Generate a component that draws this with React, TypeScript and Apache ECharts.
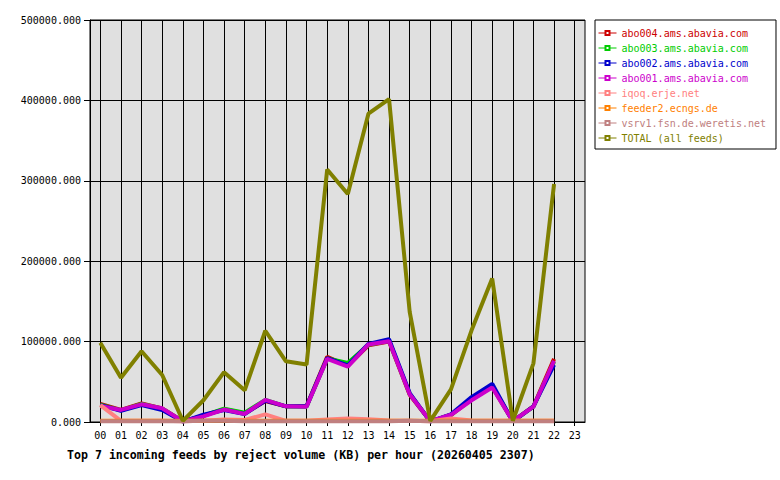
import { useEffect, useRef } from 'react';
import * as echarts from 'echarts';

const hours = ['00', '01', '02', '03', '04', '05', '06', '07', '08', '09', '10', '11',
  '12', '13', '14', '15', '16', '17', '18', '19', '20', '21', '22', '23'];

const abo004 = [22500, 15000, 23000, 17000, 1000, 7500, 16000, 10500, 26000, 19500, 20000, 81000,
  70000, 95500, 100000, 34000, 1000, 8500, 28000, 44000, 1000, 19500, 78500];
const abo003 = [21500, 14500, 22500, 16500, 800, 8000, 16500, 11500, 27500, 19500, 19000, 79000,
  73500, 96000, 101000, 35000, 800, 9000, 29000, 45000, 800, 19000, 75000];
const abo002 = [21000, 14000, 21000, 15000, 500, 9000, 15000, 10000, 26500, 19500, 19500, 79500,
  70500, 97000, 103000, 36000, 500, 9500, 31000, 47500, 500, 19500, 71000];
const abo001 = [20000, 15000, 22000, 17000, 1000, 7000, 15500, 10000, 27500, 19500, 19000, 78500,
  69000, 96500, 100500, 34500, 1000, 9000, 27000, 43000, 1000, 19000, 76000];
const iqoq = [21000, 1500, 1500, 1500, 1000, 1500, 3000, 2500, 9500, 1500, 1500, 3000,
  4500, 3500, 2000, 1500, 1000, 4500, 2000, 1500, 1500, 1500, 1500];
const feeder2 = [1500, 1500, 1500, 1500, 1500, 1500, 1500, 1500, 1500, 1500, 1500, 1500,
  1500, 1500, 1500, 1500, 1500, 1500, 1500, 1500, 1500, 1500, 1500];
const vsrv1 = [800, 800, 800, 800, 800, 1500, 1500, 800, 800, 800, 800, 800,
  800, 800, 800, 1500, 800, 800, 800, 800, 800, 800, 800];
const total = [98500, 55000, 88000, 58500, 1500, 27000, 62000, 39500, 113500, 75500, 71500, 314000,
  283500, 383500, 401500, 137000, 1500, 40500, 114000, 178500, 1500, 73000, 296000];

const feeds = [
  { name: 'abo004.ams.abavia.com', color: '#cc0000', data: abo004 },
  { name: 'abo003.ams.abavia.com', color: '#00cc00', data: abo003 },
  { name: 'abo002.ams.abavia.com', color: '#0000cc', data: abo002 },
  { name: 'abo001.ams.abavia.com', color: '#cc00cc', data: abo001 },
  { name: 'iqoq.erje.net', color: '#ff8080', data: iqoq },
  { name: 'feeder2.ecngs.de', color: '#ff8000', data: feeder2 },
  { name: 'vsrv1.fsn.de.weretis.net', color: '#c08080', data: vsrv1 },
  { name: 'TOTAL (all feeds)', color: '#808000', data: total },
];

const mono = 'DejaVu Sans Mono';

export default function App() {
  const chartRef = useRef(null);
  useEffect(() => {
    document.body.style.margin = '0';
    const chartInstance = echarts.init(chartRef.current, null, { renderer: 'svg' });
    const option = {
      animation: false,
      backgroundColor: '#ffffff',
      title: {
        text: 'Top 7 incoming feeds by reject volume (KB) per hour (20260405 2307)',
        left: 62,
        top: 444,
        textStyle: { fontFamily: mono, fontSize: 11.6, fontWeight: 'bold', color: '#000' },
      },
      legend: {
        orient: 'vertical',
        left: 595,
        top: 20,
        padding: [7, 10, 5, 3],
        backgroundColor: '#ffffff',
        borderColor: '#000',
        borderWidth: 1,
        borderRadius: 0,
        itemWidth: 18,
        itemHeight: 5,
        itemGap: 3,
        selectedMode: false,
        lineStyle: { width: 1 },
        textStyle: { fontFamily: mono, fontSize: 10, lineHeight: 12 },
        data: feeds.map((f) => ({ name: f.name, textStyle: { color: f.color } })),
      },
      grid: {
        left: 90,
        top: 20,
        width: 495,
        height: 402,
        show: true,
        backgroundColor: '#e0e0e0',
        borderColor: '#000',
        borderWidth: 1,
      },
      xAxis: {
        type: 'category',
        data: hours,
        boundaryGap: true,
        axisLine: { lineStyle: { color: '#000', width: 1 } },
        axisTick: { show: true, alignWithLabel: true, length: 4, lineStyle: { color: '#000' } },
        axisLabel: { fontFamily: mono, fontSize: 10, color: '#000', margin: 8, interval: 0 },
        splitLine: { show: true, alignWithLabel: true, lineStyle: { color: '#000', width: 1 } },
      },
      yAxis: {
        type: 'value',
        min: 0,
        max: 500000,
        interval: 100000,
        axisLine: { show: true, lineStyle: { color: '#000', width: 1 } },
        axisTick: { show: true, length: 6, lineStyle: { color: '#000' } },
        axisLabel: {
          fontFamily: mono,
          fontSize: 10,
          color: '#000',
          margin: 9,
          formatter: (v: number) => v.toFixed(3),
        },
        splitLine: { show: true, lineStyle: { color: '#000', width: 1 } },
      },
      series: feeds.map((f) => ({
        name: f.name,
        type: 'line',
        data: f.data,
        color: f.color,
        symbol: 'emptyRect',
        symbolSize: 4,
        showSymbol: false,
        lineStyle: { width: 4, color: f.color },
        itemStyle: { color: f.color },
        emphasis: { disabled: true },
      })),
    };

    chartInstance.setOption(option);
    return () => {
      chartInstance.dispose();
    };
  }, []);

  return <div ref={chartRef} style={{ width: '780px', height: '480px' }} />;
}
